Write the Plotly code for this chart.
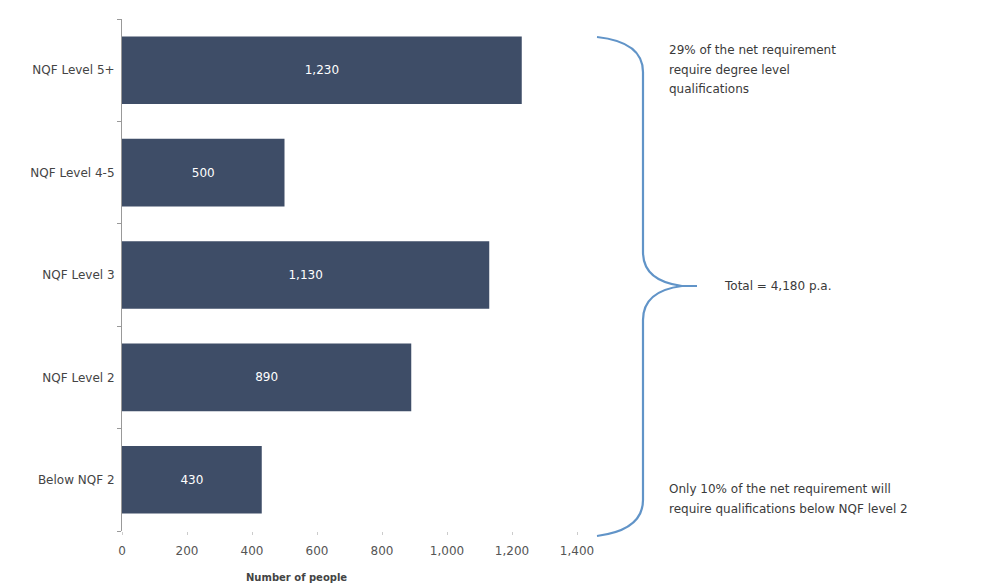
import plotly.graph_objects as go

# Net annual requirement by qualification level
categories = ["NQF Level 5+", "NQF Level 4-5", "NQF Level 3", "NQF Level 2", "Below NQF 2"]
values = [1230, 500, 1130, 890, 430]
value_labels = ["1,230", "500", "1,130", "890", "430"]
x_ticks = [0, 200, 400, 600, 800, 1000, 1200, 1400]
x_tick_labels = ["0", "200", "400", "600", "800", "1,000", "1,200", "1,400"]

top_note = ["29% of the net requirement", "require degree level", "qualifications"]
total_note = "Total = 4,180 p.a."
bottom_note = ["Only 10% of the net requirement will", "require qualifications below NQF level 2"]

W, H = 1002, 584
L, R, T, B = 122, 577, 19, 531   # plot area in pixels
FONT = "DejaVu Sans, sans-serif"


def px(x):
    return (x - L) / (R - L)


def py(y):
    return (B - y) / (B - T)


fig = go.Figure(go.Bar(
    y=categories,
    x=values,
    orientation="h",
    marker=dict(color="#3e4d67", line=dict(width=0)),
    text=value_labels,
    textposition="inside",
    insidetextanchor="middle",
    textfont=dict(color="white", size=12, family=FONT),
    hoverinfo="skip",
))

# Curly brace spanning all bars
pts = [
    ("M", [(597, 37)]),
    ("Q", [(643, 42), (643, 72)]),
    ("L", [(643, 252)]),
    ("Q", [(643, 281), (682, 286)]),
    ("L", [(697, 286)]),
    ("M", [(682, 286)]),
    ("Q", [(643, 291), (643, 320)]),
    ("L", [(643, 500)]),
    ("Q", [(643, 530), (597, 536)]),
]
path = ""
for cmd, coords in pts:
    path += cmd + " " + " ".join(f"{px(a):.5f},{py(b):.5f}" for a, b in coords) + " "

fig.add_shape(type="path", path=path.strip(), xref="paper", yref="paper",
              line=dict(color="#6194c8", width=2.2))

ann_font = dict(family=FONT, size=12, color="#3a3a3a")


def note(text, x, y):
    fig.add_annotation(x=px(x), y=py(y), xref="paper", yref="paper",
                       xanchor="left", yanchor="middle", align="left",
                       showarrow=False, text=text, font=ann_font)


for i, line in enumerate(top_note):
    note(line, 667, 50 + 19.5 * i)
note(total_note, 722, 286)
for i, line in enumerate(bottom_note):
    note(line, 667, 489 + 19.5 * i)

# Axis title
fig.add_annotation(x=px(296), y=py(577), xref="paper", yref="paper",
                   xanchor="center", yanchor="middle", showarrow=False,
                   text="<b>Number of people</b>",
                   font=dict(family=FONT, size=10, color="#444444"))

fig.update_layout(
    width=W, height=H,
    margin=dict(l=L, r=W - R, t=T, b=H - B),
    paper_bgcolor="white",
    plot_bgcolor="white",
    font=dict(family=FONT, color="#444444"),
    bargap=0.34,
    showlegend=False,
    xaxis=dict(
        range=[0, 1400],
        tickvals=x_ticks,
        ticktext=x_tick_labels,
        tickfont=dict(size=12, color="#555555", family=FONT),
        showgrid=False,
        zeroline=False,
        showline=False,
        ticks="outside",
        ticklen=3,
        tickcolor="#cccccc",
        ticklabelstandoff=6,
    ),
    yaxis=dict(
        categoryorder="array",
        categoryarray=categories[::-1],
        tickfont=dict(size=12, color="#444444", family=FONT),
        showgrid=False,
        zeroline=False,
        showline=True,
        linecolor="#999999",
        linewidth=1,
        ticks="outside",
        tickson="boundaries",
        ticklen=4,
        tickcolor="#999999",
        ticklabelstandoff=4,
    ),
)

fig.write_html("out.html")
